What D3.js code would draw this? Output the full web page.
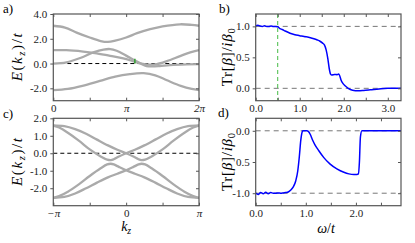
<!DOCTYPE html>
<html>
<head>
<meta charset="utf-8">
<script src="https://cdn.jsdelivr.net/npm/d3@7"></script>
<style>
  body { margin: 0; background: #fff; }
  svg { display: block; }
  text { font-family: "Liberation Serif", "DejaVu Serif", serif; }
</style>
</head>
<body>
<svg width="415" height="243"></svg>
<script>

// ----- Data (k_z in units of pi) ----- //
// panel a: four bands over [0, 2pi]
var aBand1 = [[0,3.05],[0.16,2.9],[0.32,2.5],[0.5,2.1],[0.65,1.82],[0.75,1.75],[0.85,1.85],[1.0,2.1],[1.15,2.45],[1.33,2.77],[1.5,3.0],[1.74,3.17],[1.9,3.12],[2.0,3.05]];
var aBand2 = [[0,1.08],[0.18,1.08],[0.41,0.97],[0.57,0.85],[0.78,0.62],[0.96,0.42],[1.1,0.18],[1.19,0.02],[1.3,-0.08],[1.42,-0.04],[1.56,0.2],[1.74,0.6],[1.88,0.9],[2.0,1.08]];
var aBand3 = [[0,0],[0.18,0.1],[0.37,0.45],[0.55,0.9],[0.69,1.13],[0.78,1.17],[0.87,1.03],[1.0,0.64],[1.12,0.25],[1.2,0.0],[1.28,-0.2],[1.36,-0.23],[1.46,-0.2],[1.6,-0.13],[1.83,-0.07],[2.0,-0.05]];
var aBand4 = [[0,-2.15],[0.2,-2.05],[0.4,-1.8],[0.64,-1.4],[0.85,-1.05],[1.05,-0.85],[1.24,-0.78],[1.4,-0.95],[1.56,-1.35],[1.75,-1.8],[1.9,-2.05],[2.0,-2.15]];
var aMark = [[1.12,0.0],[1.12,0.38]];

// panel c: four bands over [-pi, pi]
var cBand1 = [[-1,1.6],[-0.85,1.55],[-0.7,1.38],[-0.55,1.12],[-0.4,0.78],[-0.25,0.45],[-0.12,0.2],[0,0],[0.1,-0.19],[0.17,-0.34],[0.21,-0.39],[0.26,-0.36],[0.35,-0.18],[0.5,0.22],[0.65,0.72],[0.8,1.17],[0.92,1.47],[1,1.58]];
var cBand2 = [[-1,1.58],[-0.92,1.47],[-0.8,1.17],[-0.65,0.72],[-0.5,0.22],[-0.35,-0.18],[-0.26,-0.36],[-0.21,-0.39],[-0.17,-0.34],[-0.1,-0.19],[0,0],[0.12,0.2],[0.25,0.45],[0.4,0.78],[0.55,1.12],[0.7,1.38],[0.85,1.55],[1,1.6]];
var cBand3 = [[-1,-2.55],[-0.85,-2.5],[-0.7,-2.3],[-0.55,-2.0],[-0.4,-1.68],[-0.25,-1.38],[-0.12,-1.17],[0,-0.97],[0.1,-0.78],[0.17,-0.64],[0.21,-0.6],[0.26,-0.64],[0.35,-0.86],[0.5,-1.3],[0.65,-1.78],[0.8,-2.2],[0.92,-2.45],[1,-2.55]];
var cBand4 = [[-1,-2.55],[-0.92,-2.45],[-0.8,-2.2],[-0.65,-1.78],[-0.5,-1.3],[-0.35,-0.86],[-0.26,-0.64],[-0.21,-0.6],[-0.17,-0.64],[-0.1,-0.78],[0,-0.97],[0.12,-1.17],[0.25,-1.38],[0.4,-1.68],[0.55,-2.0],[0.7,-2.3],[0.85,-2.5],[1,-2.55]];

// panel b: Tr[beta]/i beta0 vs omega/t
var bTrace = [[0,1.01],[0.05,1.02],[0.1,1.005],[0.15,1.0],[0.2,1.01],[0.25,1.0],[0.3,1.0],[0.35,1.005],[0.4,1.0],[0.45,1.0],[0.5,0.995],[0.55,0.965],[0.6,0.95],[0.67,0.925],[0.78,0.89],[0.89,0.865],[1.0,0.85],[1.1,0.835],[1.2,0.825],[1.3,0.805],[1.4,0.78],[1.46,0.76],[1.52,0.73],[1.56,0.7],[1.6,0.62],[1.64,0.47],[1.67,0.32],[1.7,0.23],[1.73,0.215],[1.77,0.22],[1.81,0.225],[1.85,0.22],[1.88,0.23],[1.91,0.2],[1.94,0.13],[1.98,0.08],[2.03,0.04],[2.1,0.0],[2.2,-0.03],[2.33,-0.04],[2.45,-0.035],[2.6,-0.025],[2.8,-0.01],[3.0,0.0],[3.15,0.0],[3.3,0.0]];

// panel d
var dTrace = [[0,-1.0],[0.05,-1.02],[0.1,-0.99],[0.15,-1.01],[0.2,-0.985],[0.25,-1.01],[0.3,-0.99],[0.35,-1.0],[0.4,-1.0],[0.45,-0.995],[0.5,-1.0],[0.55,-0.995],[0.6,-0.99],[0.65,-0.98],[0.7,-0.95],[0.75,-0.9],[0.8,-0.8],[0.84,-0.64],[0.87,-0.42],[0.9,-0.15],[0.92,-0.04],[0.94,0.0],[0.97,0.0],[1.02,0.0],[1.05,-0.01],[1.09,-0.06],[1.13,-0.14],[1.18,-0.22],[1.26,-0.32],[1.36,-0.43],[1.48,-0.53],[1.62,-0.61],[1.76,-0.665],[1.86,-0.69],[1.96,-0.7],[2.02,-0.7],[2.05,-0.69],[2.07,-0.5],[2.09,-0.1],[2.12,0.0],[2.2,0.0],[2.4,0.0],[2.6,0.0],[2.8,0.0],[2.9,0.0]];

// ----- Tick labels ----- //
var aXTicks = [0, 0.5, 1, 1.5, 2];
var aXLabels = {0: '0', 1: 'π', 2: '2π'};
var aYTicks = [4, 2, 0, -2];
var aYLabels = ['4.0', '2.0', '0.0', '-2.0'];

var cXTicks = [-1, -0.5, 0, 0.5, 1];
var cXLabels = {'-1': '−π', 0: '0', 1: 'π'};
var cYTicks = [2, 1, 0, -1, -2];
var cYLabels = ['2.0', '1.0', '0.0', '-1.0', '-2.0'];

var bXTicks = [0, 0.5, 1, 1.5, 2, 2.5, 3];
var bXLabels = {0: '0.0', 1: '1.0', 2: '2.0', 3: '3.0'};
var bYTicks = [1, 0.5, 0];
var bYLabels = ['1.0', '0.5', '0.0'];

var dXTicks = [0, 0.5, 1, 1.5, 2, 2.5];
var dXLabels = {0: '0.0', 1: '1.0', 2: '2.0'};
var dYTicks = [0, -0.5, -1];
var dYLabels = ['0.0', '0.5', '-1.0'];

// ----- SVG ----- //
var svg = d3.select('svg');
var frameColor = '#555';

var boxA = {left: 53.3, right: 199, top: 14, bottom: 100.7};
var boxB = {left: 255.7, right: 401, top: 14, bottom: 100.7};
var boxC = {left: 53.3, right: 199, top: 118.3, bottom: 205.7};
var boxD = {left: 255.7, right: 401, top: 118.3, bottom: 205.7};

var pa = panel('a', boxA, [0, 2], [-3, 4]);
var pb = panel('b', boxB, [0, 3.3], [-0.2, 1.2]);
var pc = panel('c', boxC, [-1, 1], [-3, 2]);
var pd = panel('d', boxD, [0, 2.9], [-1.2, 0.2]);

// panel a
hline(pa, 0, '#000', '4,3');
[aBand1, aBand2, aBand3, aBand4].forEach(function(b) { band(pa, b); });
pa.plot.append('path').attr('d', d3.line().x(function(d) { return pa.x(d[0]); }).y(function(d) { return pa.y(d[1]); })(aMark))
  .attr('stroke', '#1f9f1f').attr('stroke-width', 1.3).attr('fill', 'none');
axes(pa, aXTicks, function(d) { return aXLabels[d] || ''; }, aYTicks, function(d, i) { return aYLabels[i]; });

// panel c
hline(pc, 0, '#000', '4,3');
[cBand1, cBand2, cBand3, cBand4].forEach(function(b) { band(pc, b); });
axes(pc, cXTicks, function(d) { return cXLabels[d] || ''; }, cYTicks, function(d, i) { return cYLabels[i]; });

// panel b
hline(pb, 1, '#777', '5,4');
hline(pb, 0, '#777', '5,4');
pb.plot.append('line')
  .attr('x1', pb.x(0.5)).attr('x2', pb.x(0.5)).attr('y1', boxB.top).attr('y2', boxB.bottom)
  .attr('stroke', '#44bb44').attr('stroke-width', 1).attr('stroke-dasharray', '4,3');
trace(pb, bTrace);
axes(pb, bXTicks, function(d) { return bXLabels[d] || ''; }, bYTicks, function(d, i) { return bYLabels[i]; });

// panel d
hline(pd, 0, '#777', '5,4');
hline(pd, -1, '#777', '5,4');
trace(pd, dTrace);
axes(pd, dXTicks, function(d) { return dXLabels[d] || ''; }, dYTicks, function(d, i) { return dYLabels[i]; });

// italic pi labels
svg.selectAll('.tick text').filter(function() { return /π/.test(this.textContent); })
  .attr('font-style', 'italic');

// ----- Axis labels ----- //
var eLabel = [{t: 'E', i: 1}, {t: '('}, {t: 'k', i: 1}, {t: 'z', i: 1, sub: 1}, {t: ')/'}, {t: 't', i: 1}];
var trLabel = [{t: 'Tr'}, {t: '['}, {t: 'β', i: 1}, {t: ']/'}, {t: 'iβ', i: 1}, {t: '0', sub: 1}];
ylabel(22, (boxA.top + boxA.bottom) / 2, eLabel, 48);
ylabel(22, (boxC.top + boxC.bottom) / 2, eLabel, 48);
ylabel(232, (boxB.top + boxB.bottom) / 2, trLabel, 58);
ylabel(232, (boxD.top + boxD.bottom) / 2, trLabel, 58);

mathText(svg.append('text').attr('x', (boxC.left + boxC.right) / 2).attr('y', 231).attr('text-anchor', 'middle').attr('font-size', 14),
  [{t: 'k', i: 1}, {t: 'z', i: 1, sub: 1}]);
mathText(svg.append('text').attr('x', 326).attr('y', 233).attr('text-anchor', 'middle').attr('font-size', 14),
  [{t: 'ω', i: 1}, {t: '/'}, {t: 't', i: 1}]);

// panel letters
[['a)', 3, 13], ['b)', 219, 13], ['c)', 3, 118], ['d)', 218, 117]].forEach(function(l) {
  svg.append('text').attr('x', l[1]).attr('y', l[2]).attr('font-size', 13).text(l[0]);
});

// ==================== Helper functions ==================== //

function translate(x, y) {
  return 'translate(' + x + ',' + y + ')';
}

function panel(name, box, xDomain, yDomain) {
  var x = d3.scaleLinear().domain(xDomain).range([box.left, box.right]);
  var y = d3.scaleLinear().domain(yDomain).range([box.bottom, box.top]);
  svg.append('clipPath').attr('id', 'clip' + name).append('rect')
    .attr('x', box.left).attr('y', box.top)
    .attr('width', box.right - box.left).attr('height', box.bottom - box.top);
  var g = svg.append('g');
  var plot = g.append('g').attr('clip-path', 'url(#clip' + name + ')');
  return {x: x, y: y, g: g, plot: plot, box: box};
}

function hline(p, v, color, dash) {
  p.plot.append('line')
    .attr('x1', p.box.left).attr('x2', p.box.right)
    .attr('y1', p.y(v)).attr('y2', p.y(v))
    .attr('stroke', color).attr('stroke-width', 1).attr('stroke-dasharray', dash);
}

function band(p, data) {
  var line = d3.line()
    .x(function(d) { return p.x(d[0]); })
    .y(function(d) { return p.y(d[1]); })
    .curve(d3.curveCatmullRom.alpha(0.5));
  p.plot.append('path').attr('d', line(data))
    .attr('fill', 'none').attr('stroke', '#aaaaaa').attr('stroke-width', 2.3);
}

function trace(p, data) {
  var line = d3.line()
    .x(function(d) { return p.x(d[0]); })
    .y(function(d) { return p.y(d[1]); })
    .curve(d3.curveMonotoneX);
  p.plot.append('path').attr('d', line(data))
    .attr('fill', 'none').attr('stroke', '#0000ff').attr('stroke-width', 1.5);
}

function axes(p, xt, xfmt, yt, yfmt) {
  var b = p.box;
  clean(p.g.append('g').attr('transform', translate(0, b.bottom))
    .call(d3.axisBottom(p.x).tickValues(xt).tickSize(-3).tickPadding(4).tickFormat(xfmt)));
  clean(p.g.append('g').attr('transform', translate(0, b.top))
    .call(d3.axisTop(p.x).tickValues(xt).tickSize(-3).tickFormat('')));
  clean(p.g.append('g').attr('transform', translate(b.left, 0))
    .call(d3.axisLeft(p.y).tickValues(yt).tickSize(3).tickPadding(3).tickFormat(yfmt)));
  clean(p.g.append('g').attr('transform', translate(b.right, 0))
    .call(d3.axisRight(p.y).tickValues(yt).tickSize(-3).tickFormat('')));
  p.g.append('rect')
    .attr('x', b.left).attr('y', b.top)
    .attr('width', b.right - b.left).attr('height', b.bottom - b.top)
    .attr('fill', 'none').attr('stroke', frameColor).attr('stroke-width', 1.2);
}

function clean(ax) {
  ax.attr('font-family', null).attr('font-size', 11);
  ax.select('.domain').remove();
  ax.selectAll('.tick line').attr('stroke', frameColor);
  ax.selectAll('.tick text').attr('fill', '#222');
}

function mathText(text, parts) {
  parts.forEach(function(s, i) {
    var prev = parts[i - 1];
    var ts = text.append('tspan').text(s.t);
    if (s.i) ts.attr('font-style', 'italic');
    if (s.sub) ts.attr('font-size', '70%').attr('dy', 3);
    else if (prev && prev.sub) ts.attr('dy', -3);
  });
  return text;
}

function ylabel(x, y, parts, len) {
  var t = svg.append('text')
    .attr('transform', translate(x, y) + ' rotate(-90)')
    .attr('text-anchor', 'middle').attr('font-size', 15)
    .attr('textLength', len).attr('lengthAdjust', 'spacing');
  mathText(t, parts);
}

</script>
</body>
</html>
